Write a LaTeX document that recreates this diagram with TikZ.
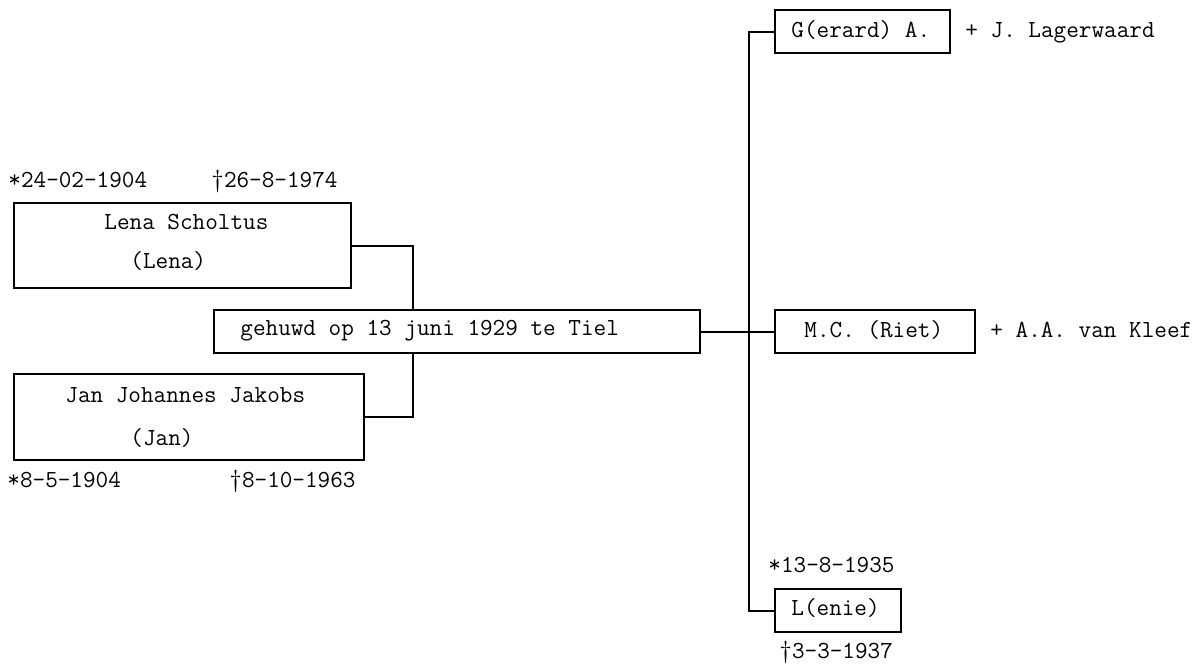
\documentclass[tikz,border=0pt]{standalone}
\usepackage{fontspec}
\usetikzlibrary{calc}

\begin{document}
\begin{tikzpicture}[x=0.5pt, y=-0.5pt]
\def\px{0.5pt}
\tikzset{
  vak/.style={draw, line width=1pt, inner sep=0pt, anchor=north west},
  tekst/.style={anchor=base west, inner sep=0pt, font=\ttfamily\fontsize{12.25}{14}\selectfont},
  lijn/.style={line width=1pt}
}
\useasboundingbox (0,0) rectangle (1201,665);

% 父母的方框
\node [vak, minimum width=337*\px, minimum height=85*\px] (lena) at (13,202) {};
\node [vak, minimum width=350*\px, minimum height=86*\px] (jan) at (13,373) {};
% 婚姻的方框
\node [vak, minimum width=486*\px, minimum height=43*\px] (huwelijk) at (213,309) {};
% 子女的方框
\node [vak, minimum width=175*\px, minimum height=43*\px] (gerard) at (774,9) {};
\node [vak, minimum width=200*\px, minimum height=43*\px] (riet) at (774,309) {};
\node [vak, minimum width=126*\px, minimum height=43*\px] (lenie) at (774,588) {};

% 文字
\node [tekst] (lenageb) at (8,187) {*24-02-1904};
\node [tekst] (lenaovl) at (211,187) {\textdagger 26-8-1974};
\node [tekst] (lenanaam) at (104,229) {Lena Scholtus};
\node [tekst] (lenaroep) at (130,268) {(Lena)};
\node [tekst] (jannaam) at (65,402) {Jan Johannes Jakobs};
\node [tekst] (janroep) at (130,445) {(Jan)};
\node [tekst] (jangeb) at (7,487) {*8-5-1904};
\node [tekst] (janovl) at (229,487) {\textdagger 8-10-1963};
\node [tekst] (huwtekst) at (240,335) {gehuwd op 13 juni 1929 te Tiel};
\node [tekst] (gerardnaam) at (791,37) {G(erard) A.};
\node [tekst] (gerardpartner) at (965,37) {+ J. Lagerwaard};
\node [tekst] (rietnaam) at (804,337) {M.C. (Riet)};
\node [tekst] (rietpartner) at (990,337) {+ A.A. van Kleef};
\node [tekst] (lenienaam) at (791,615) {L(enie)};
\node [tekst] (leniegeb) at (768,572) {*13-8-1935};
\node [tekst] (lenieovl) at (779,658) {\textdagger 3-3-1937};

% 连线
\coordinate (midden) at (413,331);
\coordinate (stam) at (749,331);
\draw [lijn] (lena.east) -| (midden |- huwelijk.north);
\draw [lijn] (jan.east) -| (midden |- huwelijk.south);
\draw [lijn] (huwelijk.east) -- (riet.west);
\draw [lijn] (gerard.west) -| (stam);
\draw [lijn] (lenie.west) -| (stam);

\end{tikzpicture}
\end{document}
